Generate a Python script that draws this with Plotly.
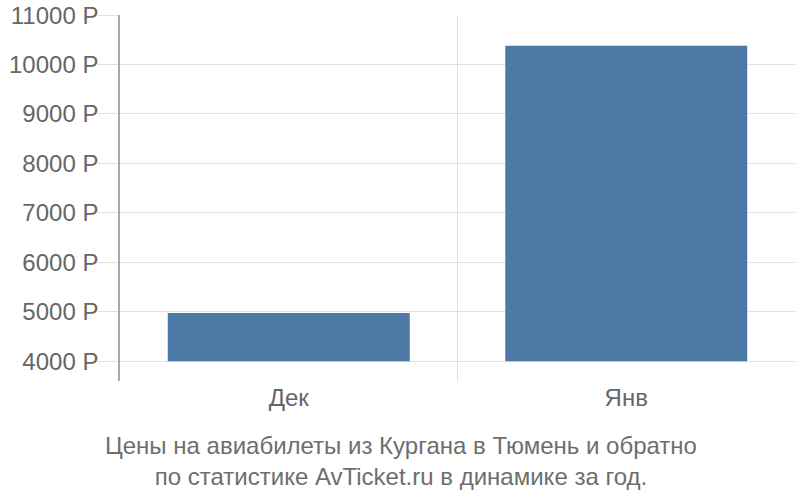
import plotly.graph_objects as go

## Данные

months = ["Дек", "Янв"]
prices = [4975, 10380]
base_price = 4000
y_ticks = [4000, 5000, 6000, 7000, 8000, 9000, 10000, 11000]
y_labels = [f"{v} Р" for v in y_ticks]

title_text = "Цены на авиабилеты из Кургана в Тюмень и обратно<br>по статистике AvTicket.ru в динамике за год."

## График

fig = go.Figure(go.Bar(x = months,
                       y = [p - base_price for p in prices],
                       base = base_price,
                       marker = dict(color = "#4d79a6", line = dict(width = 0))))

fig.update_xaxes(tickson = "boundaries", showgrid = True, gridcolor = "#e0e0e0",
                 ticks = "", showline = False, zeroline = False, automargin = False,
                 tickfont = dict(size = 24, color = "#666666"))

fig.update_yaxes(range = [3600, 11002], tickvals = y_ticks, ticktext = y_labels,
                 showgrid = True, gridcolor = "#e0e0e0", zeroline = False,
                 ticks = "outside", ticklen = 20, tickcolor = "#e0e0e0",
                 showline = True, linecolor = "#aaaaaa", linewidth = 1.5,
                 automargin = False, ticklabeloverflow = "allow", ticklabelstandoff = -5,
                 tickfont = dict(size = 24, color = "#666666"))

# подпись под графиком
fig.add_annotation(text = title_text, xref = "paper", yref = "paper",
                   x = 0.416, y = -0.219, xanchor = "center", yanchor = "middle",
                   showarrow = False, font = dict(size = 24, color = "#6e6e6e"))

fig.update_layout(width = 800, height = 500, bargap = 0.283,
                  plot_bgcolor = "white", paper_bgcolor = "white",
                  font = dict(family = "Liberation Sans, Arial, sans-serif"),
                  margin = dict(l = 120, r = 5, t = 15, b = 119),
                  showlegend = False)

# убираю отступ body, чтобы график начинался в углу окна
fig.write_html("out.html", config = {"displayModeBar": False},
               post_script = "document.body.style.margin = '0';")
